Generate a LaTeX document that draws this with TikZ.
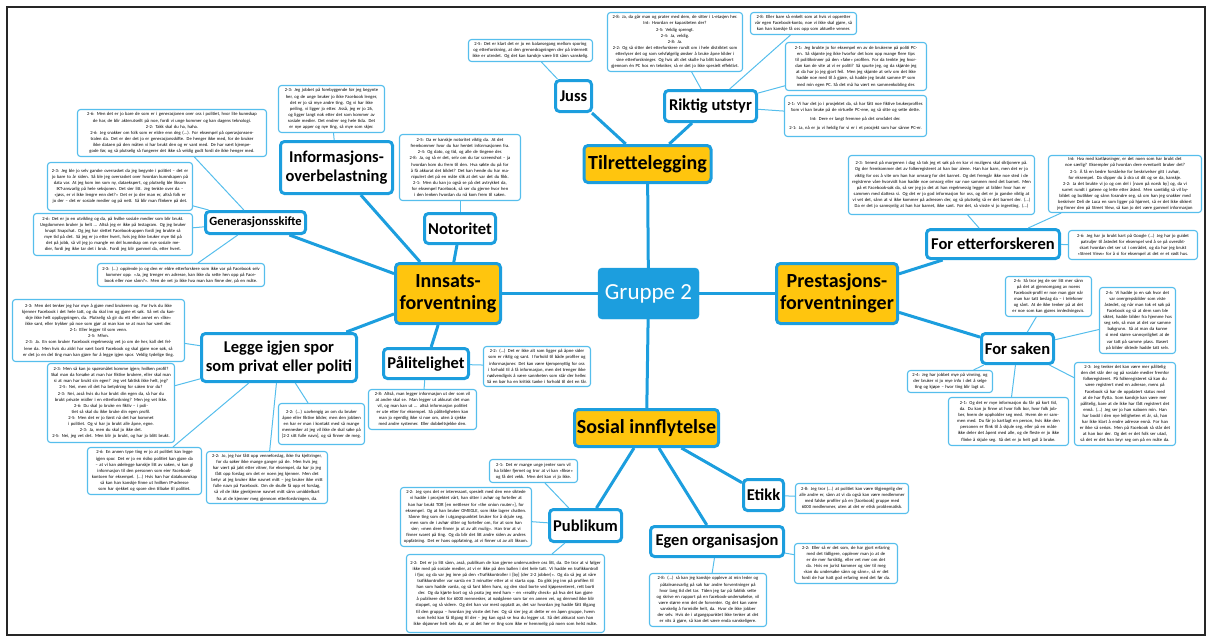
\documentclass[tikz,border=0pt]{standalone}
\usepackage{fontspec}
\setmainfont{Carlito}
\usepackage{tikz}
\usetikzlibrary{positioning}
\definecolor{mmblue}{RGB}{28,158,222}
\definecolor{qblue}{RGB}{86,190,236}
\definecolor{mmyellow}{RGB}{255,197,14}

\begin{document}
\begin{tikzpicture}[x=1pt,y=-1pt,
    hub/.style={draw=mmblue,fill=mmblue,rounded corners=4pt,text=white,inner sep=0pt,font=\fontsize{23}{26}\selectfont},
    topic/.style={draw=mmblue,line width=3pt,fill=mmyellow,rounded corners=4pt,inner sep=0pt,align=center,font=\bfseries\fontsize{20}{22}\selectfont},
    sub/.style={draw=mmblue,line width=3pt,fill=white,rounded corners=4pt,inner sep=0pt,align=center,font=\bfseries\fontsize{16.5}{19}\selectfont},
    quote/.style={draw=qblue,line width=1.1pt,fill=white,rounded corners=3pt,inner xsep=3pt,inner ysep=1pt,align=center,font=\fontsize{4.6}{6.1}\selectfont},
    link/.style={mmblue,line width=3pt},
    qlink/.style={qblue,line width=1pt}]
\useasboundingbox (0,0) rectangle (1207,637);
\draw[black!85,line width=1.2pt] (7,7) rectangle (1205,635);

\draw (648.5,293.5) node[hub,minimum width=101,minimum height=51] (hub) {Gruppe 2}
      (647.5,164) node[topic,minimum width=127,minimum height=37] (t1) {Tilrettelegging}
      (448,293.5) node[topic,minimum width=105,minimum height=60] (t2) {Innsats-\\forventning}
      (837,293.5) node[topic,minimum width=121,minimum height=60] (t3) {Prestasjons-\\forventninger}
      (646.5,428) node[topic,minimum width=144,minimum height=37] (t4) {Sosial innflytelse};

\draw (573.5,96) node[sub,minimum width=36,minimum height=31] (s1) {Juss}
      (710.5,106) node[sub,minimum width=92,minimum height=31] (s2) {Riktig utstyr}
      (336.5,167.5) node[sub,minimum width=112,minimum height=52] (s3) {Informasjons-\\overbelastning}
      (460,228.5) node[sub,minimum width=71,minimum height=30] (s4) {Notoritet}
      (255.5,222.5) node[sub,minimum width=100,minimum height=22,font=\bfseries\fontsize{12.5}{14}\selectfont] (s5) {Generasjonsskifte}
      (279,357.5) node[sub,minimum width=155,minimum height=48] (s6) {Legge igjen spor\\som privat eller politi}
      (426,363.5) node[sub,minimum width=85,minimum height=30] (s7) {Pålitelighet}
      (993,244) node[sub,minimum width=133,minimum height=29] (s8) {For etterforskeren}
      (1017.5,348.5) node[sub,minimum width=72,minimum height=30] (s9) {For saken}
      (763.5,495) node[sub,minimum width=40,minimum height=31] (s10) {Etikk}
      (717,541.5) node[sub,minimum width=133,minimum height=30] (s11) {Egen organisasjon}
      (585.5,525.5) node[sub,minimum width=72,minimum height=32] (s12) {Publikum};

\draw (331.5,109) node[quote,text width=100,minimum height=47] (q1) {2-3: Jeg jobbet på forebyggende før jeg begynte her, og de unge bruker jo ikke Facebook lenger, det er jo så mye andre ting. Og vi har ikke peiling, vi ligger jo etter. Asså, jeg er jo 26, og ligger langt nok etter det som kommer av sosiale medier. Det endrer seg hele tida. Det er nye apper og nye ting, så mye som skjer.}
      (172,133) node[quote,text width=183,minimum height=47] (q2) {2-6: Men det er jo bare de som er i generasjonen over oss i politiet, hvor lite kunnskap de har, de blir akterutseilt på noe, fordi vi unge kommer og kan dagens teknologi.\\2-2: Takk skal du ha, haha.\\2-6: Jeg snakker om folk som er eldre enn deg (...). For eksempel på operasjonssentralen da. Det er der det jo er generasjonsskifte. De henger ikke med, for de bruker ikke dataen på den måten vi har brukt den og er vant med. De har vært kjempegode før, og så plutselig så fungerer det ikke så veldig godt fordi de ikke henger med.}
      (120,186.5) node[quote,text width=139,minimum height=48] (q3) {2-3: Jeg ble jo selv ganske overrasket da jeg begynte i politiet – det er jo bare to år siden. Så ble jeg overrasket over hvordan kunnskapen på data var. At jeg kom inn som ny, dataekspert, og plutselig ble liksom IKT-ansvarlig på hele seksjonen. Det sier litt. Jeg tenkte over da – «jøss, er vi ikke lengre enn det?» Det er jo der man er, altså folk er jo der – det er sosiale medier og på nett. Så blir man flinkere på det.}
      (113,234.5) node[quote,text width=153,minimum height=42] (q4) {2-6: Det er jo en utvikling og da, på hvilke sosiale medier som blir brukt. Ungdommen bruker jo helt ... Altså jeg er ikke på Instagram. Og jeg bruker knapt Snapchat. Og jeg har slettet Facebook-appen fordi jeg brukte så mye tid på det. Så jeg er jo etter hvert, hvis jeg ikke bruker mye tid på det på jobb, så vil jeg jo mangle en del kunnskap om nye sosiale medier, fordi jeg ikke tar det i bruk. Fordi jeg blir gammel da, etter hvert.}
      (181,275) node[quote,text width=161,minimum height=23] (q5) {2-3: (...) opplevde jo og den er eldre etterforskere som ikke var på Facebook selv kommer opp: «Ja, jeg trenger en adresse, kan ikke du sette hen opp på Facebook eller noe sånn?». Men de vet jo ikke hva man kan finne der, på en måte.}
      (98.5,330.5) node[quote,text width=166,minimum height=62] (q6) {2-3: Men det tenker jeg har mye å gjøre med brukeren og. For hvis du ikke kjenner Facebook i det hele tatt, og du skal inn og gjøre et søk. Så vet du kanskje ikke helt oppbygningen, da. Plutselig så gir du ett eller annet en «like» ikke sant, eller trykker på noe som gjør at man kan se at man har vært der.\\2-1: Eller legger til som venn.\\2-5: Mhm.\\2-3: Ja. En som bruker Facebook regelmessig vet jo om de her, kall det fellene da. Men hvis du aldri har vært borti Facebook og skal gjøre noe søk, så er det jo en del ting man kan gjøre for å legge igjen spor. Veldig tydelige ting.}
      (111,403) node[quote,text width=121,minimum height=79] (q7) {2-3: Men så kan jo spørsmålet komme igjen; hvilken profil? Skal man da forsøke at man har fiktive brukere, eller skal man si at man har brukt sin egen? Jeg vet faktisk ikke helt, jeg?\\2-5: Nei, men vil det ha betydning for saken tror du?\\2-3: Nei, asså hvis du har brukt din egen da, så har du brukt private midler i en etterforskning? Men jeg vet ikke.\\2-6: Du skal jo bruke en fiktiv – i politiet så skal du ikke bruke din egen profil.\\2-5: Men det er jo først nå det har kommet i politiet. Og vi har jo brukt alle åpne, egne.\\2-3: Ja, men du skal jo ikke det.\\2-5: Nei, jeg vet det. Men blir jo brukt, og har jo blitt brukt.}
      (144.5,471) node[quote,text width=108,minimum height=47] (q8) {2-6: En annen type ting er jo at politiet kan legge igjen spor. Det er jo en risiko politiet kan gjøre da – at vi kan ødelegge kanskje litt av saken, vi kan gi informasjon til den personen som eier Facebook-kontoen for eksempel. (...) Hvis han har datakunnskap så kan han kanskje finne ut hvilken IP-adresse som har sjekket og spore den tilbake til politiet.}
      (321.5,424) node[quote,text width=80,minimum height=41] (q9) {2-2: (...) uavhengig av om du bruker åpne eller fiktive bilder, men den jobben en har er man i kontakt med så mange mennesker at jeg vil ikke de skal søke på [2-2 sitt fulle navn], og så finner de meg.}
      (267,477.5) node[quote,text width=115,minimum height=52] (q10) {2-2: Jo, jeg har fått opp venneforslag, ikke fra kjeltringer, for du søker ikke mange ganger på de. Men hvis jeg har vært på jakt etter vitner, for eksempel, da har jo jeg fått opp forslag om det er noen jeg kjenner. Men det betyr at jeg bruker ikke navnet mitt – jeg bruker ikke mitt fulle navn på Facebook. Om de skulle få opp et forslag, så vil de ikke gjenkjenne navnet mitt sånn umiddelbart fra at de kjenner meg gjennom etterforskningen, da.}
      (537,366.5) node[quote,text width=101,minimum height=40] (q11) {2-2: (...) Det er ikke alt som ligger på åpne sider som er riktig og sant. I forhold til både profiler og informasjoner. Det kan være kjempenyttig for oss i forhold til å få informasjon, men det trenger ikke nødvendigvis å være sannheten som står der heller. Så en bør ha en kritisk tanke i forhold til det en får.}
      (422.5,409.5) node[quote,text width=102,minimum height=40] (q12) {2-8: Altså, man legger informasjon ut der som vil at andre skal se. Man legger ut akkurat det man vil, og man kan ut ... altså informasjon politiet er ute etter for eksempel. Så påliteligheten kan man jo egentlig ikke si noe om, uten å sjekke med andre systemer. Eller dobbeltsjekke den.}
      (460,167.5) node[quote,text width=115,minimum height=66] (q13) {2-5: Da er kanskje notoritet viktig da. At det fremkommer hvor du har hentet informasjonen fra.\\2-4: Og dato, og tid, og alle de tingene der.\\2-8: Ja, og så er det, selv om du tar screenshot – ja hvordan kom du frem til den. Hva søkte du på for å få akkurat det bildet? Det kan hende du har manipulert det på en måte slik at det var det du fikk.\\2-1: Men du kan jo også se på det avtrykket da, for eksempel Facebook, så ser du gjerne hvor hen i den lenken hvordan du nå kom frem til saken.}
      (530.5,50.5) node[quote,text width=118,minimum height=22] (q14) {2-5: Det er klart det er jo en balansegang mellom sporing og etterforskning, at den grensedragningen der på internett ikke er utredet. Og det kan kanskje være litt sånn vanskelig.}
      (675,42) node[quote,text width=129,minimum height=59] (q15) {2-8: Ja, da går man og prater med dem, de sitter i L-etasjen her.\\Int: Hvordan er kapasiteten der?\\2-5: Veldig sprengt.\\2-4: Ja, veldig.\\2-8: Ja.\\2-2: Og så sitter det etterforskere rundt om i hele distriktet som etterlyser det og som selvfølgelig ønsker å bruke åpne kilder i sine etterforskninger. Og hvis alt det skulle ha blitt kanalisert gjennom én PC hos en tekniker, så er det jo ikke spesielt effektivt.}
      (803.5,23.5) node[quote,text width=100,minimum height=22] (q16) {2-8: Eller bare så enkelt som at hvis vi oppretter vår egen Facebook-konto, noe vi ikke skal gjøre, så kan han kanskje få oss opp som aktuelle venner.}
      (856,66.5) node[quote,text width=135,minimum height=48] (q17) {2-1: Jeg brukte jo for eksempel en av de brukerne på politi PC-en. Så skjønte jeg ikke hvorfor det kom opp mange flere tips til politikvinner på den «fake» profilen. For da tenkte jeg hvordan kan de vite at vi er politi? Så spurte jeg, og da skjønte jeg at da har jo jeg gjort feil. Men jeg skjønte at selv om det ikke hadde noe med til å gjøre, så hadde jeg brukt samme IP som med min egen PC. Så det må ha vært en sammenkobling der.}
      (855.5,116) node[quote,text width=136,minimum height=41] (q18) {2-1: Vi har det jo i prosjektet da, så har fått noe fiktive brukerprofiler. Som vi kan bruke på de virtuelle PC-ene, og så sitte og sette dette.\\[3pt]Int: Dere er langt fremme på det området der.\\[3pt]2-1: Ja, nå er jo vi heldig for vi er i et prosjekt som har sånne PC-er.}
      (941.5,185) node[quote,text width=180,minimum height=59] (q19) {2-3: Senest på morgenen i dag så tok jeg et søk på en kar vi muligens skal siktjonere på. Og der fremkommer det av folkeregisteret at han bor alene. Han har barn, men det er jo viktig for oss å vite om han har omsorg for det barnet. Og det fremgår ikke noe sted i de registrene våre hvorvidt han hadde noe omsorg eller var noe sammen med det barnet. Men på et Facebook-søk da, så ser jeg jo det at han regelmessig legger ut bilder hvor han er sammen med dattera si. Og det er jo god informasjon for oss, og det er jo ganske viktig at vi vet det, sånn at vi ikke kommer på adressen der, og så plutselig så er det barnet der. (...) Da er det jo sannsynlig at han har barnet, ikke sant. Før det, så visste vi jo ingenting. (...)}
      (1125,184) node[quote,text width=147,minimum height=57] (q20) {Int: Hva med kartløsninger, er det noen som har brukt det noe særlig? Eksempler på hvordan dere eventuelt bruker det?\\2-1: Å få en bedre forståelse for beskrivelser gitt i avhør, for eksempel. Da slipper du å dra ut dit og se da, kanskje.\\2-2: Ja det brukte vi jo og om del i [navn på norsk by] og, da vi surret rundt i gatene og lette etter åsted. Men samtidig så vil bybildet og butikker og sånn forandre seg, så om han jeg snakker med beskriver Deli de Luca en som ligger på hjørnet, så er det ikke sikkert jeg finner den på Street View, så kan jo det være gammel informasjon}
      (1133,245) node[quote,text width=123,minimum height=29] (q21) {2-6: Jeg har jo brukt kart på Google (...) Jeg har jo guidet patruljer til åstedet for eksempel ved å se på oversiktskart hvordan det ser ut i området, og da har jeg brukt «Street View» for å si for eksempel at det er et rødt hus.}
      (1048.5,296.5) node[quote,text width=80,minimum height=40] (q22) {2-6: Så tror jeg de ser litt mer sånn på det at gjennomgang av noens Facebook-profil er noe man gjør når man har tatt beslag da – i telefoner og sånt. At de ikke tenker på at det er noe som kan gjøres innledningsvis.}
      (1137.5,320.5) node[quote,text width=70,minimum height=66] (q23) {2-6: Vi hadde jo en sak hvor det var overgrepsbilder som viste åstedet, og når man tok et søk på Facebook og så at dem som ble siktet, hadde bilder fra hjemme hos seg selv, så man at det var samme bakgrunn. Så at man da kunne si med større sannsynlighet at de var tatt på samme plass. Basert på bilder siktede hadde tatt selv.}
      (950,381.5) node[quote,text width=79,minimum height=22] (q24) {2-4: Jeg har jobbet mye på vinning, og der bruker vi jo mye info i det å selge ting og kjøpe – hvor ting blir lagt ut.}
      (1008.5,421.5) node[quote,text width=114,minimum height=48] (q25) {2-1: Og det er mye informasjon du får på kort tid, da. Du kan jo finne ut hvor folk bor, hvor folk jobber, hvem de oppholder seg med. Hvem de er sammen med. Du får jo kartlagt en person, hvis ikke den personen er flink til å skjule seg, eller på en måte ikke deler det åpent med alle, og de fleste er jo ikke flinke å skjule seg. Så det er jo helt gull å bruke.}
      (1125,404) node[quote,text width=95,minimum height=83] (q26) {2-3: Jeg tenker det kan være mer pålitelig den det står der og på sosiale medier fremfor folkeregisteret. På folkeregisteret så kan du være registrert med en adresse, mens på Facebook så har de oppdatert status med at de har flytta. Som kanskje kan være mer pålitelig, bare at de ikke har fått registrert det ennå. (...) Jeg ser jo han naboen min. Han har bodd i den nye leiligheten et år, så, han har ikke klart å endre adresse ennå. For han er ikke så seriøs. Men på Facebook så står det at han bor der. Og det er det folk ser utad, så det er det han bryr seg om på en måte da.}
      (533.5,471) node[quote,text width=82,minimum height=23] (q27) {2-1: Det er mange unge jenter som vil ha bilder fjernet og tror at vi kan «fikse» og få det vekk. Men det kan vi jo ikke.}
      (466,517) node[quote,text width=125,minimum height=59] (q28) {2-2: Jeg syns det er interessant, spesielt med den ene siktede vi hadde i prosjektet vårt, han sitter i avhør og forteller at han har brukt TOR [en nettleser for «the onion router»], for eksempel. Og at han bruker OMEGLE, som ikke lagrer chatten. Sånne ting som de i utgangspunktet bruker for å skjule seg, men som de i avhør sitter og forteller om, for at som han sier; «men dere finner jo ut av alt mulig». Han tror at vi finner svaret på ting. Og da blir det litt andre siden av andres oppfatning. Det er hans oppfatning, at vi finner ut av alt liksom.}
      (505.5,593.5) node[quote,text width=192,minimum height=78] (q29) {2-2: Det er jo litt sånn, asså, publikum de kan gjerne undervurdere oss litt, da. De tror at vi følger ikke med på sosiale medier, at vi er ikke på den ballen i det hele tatt. Vi hadde en trafikkontroll i fjor, og da var jeg inne på den «Trafikkontroller i [by] (der 2-2 jobber)». Og da så jeg at våre trafikkontroller var varsla en 3 minutter etter at vi starta opp. Da gikk jeg inn på profilen til han som hadde varsla, og så fant bilen hans, og den stod borte ved kjøpesenteret, rett borti der. Og da kjørte bort og så prata jeg med ham – en «reality check» på hva det kan gjøre å publisere det for 6000 mennesker, at nødgåene som tar en annen vei, og dermed ikke blir stoppet, og så videre. Og det han var mest opptatt av, det var hvordan jeg hadde fått tilgang til den gruppa – hvordan jeg visste det her. Og så sier jeg at dette er en åpen gruppe, hvem som helst kan få tilgang til der – jeg kan også se hva du legger ut. Så det akkurat som han ikke skjønner helt selv da, er at det her er ting som ikke er hemmelig på noen som helst måte.}
      (852,498.5) node[quote,text width=107,minimum height=30] (q30) {2-8: Jeg tror (...) at politiet kan være tilgjengelig der alle andre er, sånn at vi da også kan være medlemmer med falske profiler på en [facebook] gruppe med 6000 medlemmer, uten at det er etisk problematisk.}
      (846,563.5) node[quote,text width=97,minimum height=40] (q31) {2-2: Eller så er det som, de har gjort erfaring med det tidligere, opplever man jo at de er de mer forsiktig, eller vet mer om det da. Hvis en jurist kommer og sier til meg «kan du undersøke sånn og sånn», så er det fordi de har hatt god erfaring med det før da.}
      (708,600) node[quote,text width=111,minimum height=53] (q32) {2-8: (...) så kan jeg kanskje oppleve at min leder og påtaleansvarlig på sak har andre forventninger på hvor lang tid det tar. Tiden jeg tar på faktisk sette og skrive en rapport på en facebook-undersøkelse, vil være større enn det de forventer. Og det kan være vanskelig å formidle helt, da. Hvor de ikke jobber der selv. Hvis de i utgangspunktet ikke tenker at det er vits å gjøre, så kan det være enda vanskeligere.};

\draw[link] (hub) -- (t1);
\draw[link] (hub) -- (t2);
\draw[link] (hub) -- (t3);
\draw[link] (hub) -- (t4);
\draw[link] (t1) -- (s1);
\draw[link] (t1) -- (s2);
\draw[link] (t2) -- (s3);
\draw[link] (t2) -- (s4);
\draw[link] (t2) -- (s5);
\draw[link] (t2) -- (s6);
\draw[link] (t2) -- (s7);
\draw[link] (t3) -- (s8);
\draw[link] (t3) -- (s9);
\draw[link] (t4) -- (s10);
\draw[link] (t4) -- (s11);
\draw[link] (t4) -- (s12);

\draw[qlink] (s3) -- (q1);
\draw[qlink] (s5) -- (q2);
\draw[qlink] (s5) -- (q3);
\draw[qlink] (s5) -- (q4);
\draw[qlink] (s5) -- (q5);
\draw[qlink] (s6) -- (q6);
\draw[qlink] (s6) -- (q7);
\draw[qlink] (s6) -- (q8);
\draw[qlink] (s6) -- (q9);
\draw[qlink] (s6) -- (q10);
\draw[qlink] (s7) -- (q11);
\draw[qlink] (s7) -- (q12);
\draw[qlink] (s4) -- (q13);
\draw[qlink] (s1) -- (q14);
\draw[qlink] (s2) -- (q15);
\draw[qlink] (s2) -- (q16);
\draw[qlink] (s2) -- (q17);
\draw[qlink] (s2) -- (q18);
\draw[qlink] (s8) -- (q19);
\draw[qlink] (s8) -- (q20);
\draw[qlink] (s8) -- (q21);
\draw[qlink] (s9) -- (q22);
\draw[qlink] (s9) -- (q23);
\draw[qlink] (s9) -- (q24);
\draw[qlink] (s9) -- (q25);
\draw[qlink] (s9) -- (q26);
\draw[qlink] (s12) -- (q27);
\draw[qlink] (s12) -- (q28);
\draw[qlink] (s12) -- (q29);
\draw[qlink] (s10) -- (q30);
\draw[qlink] (s11) -- (q31);
\draw[qlink] (s11) -- (q32);
\end{tikzpicture}
\end{document}
